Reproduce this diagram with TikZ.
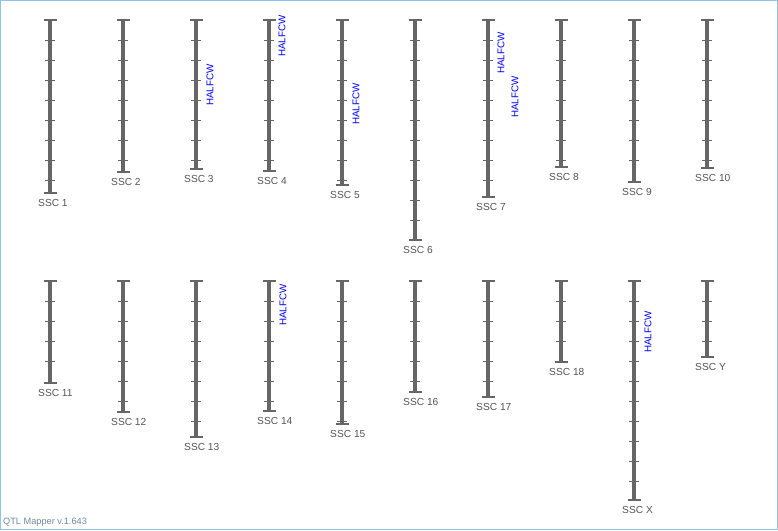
\documentclass[tikz,border=0pt]{standalone}
\usepackage{fontspec}
\setmainfont{Liberation Sans}
\definecolor{chromgrey}{HTML}{666666}
\definecolor{labgrey}{HTML}{555555}
\definecolor{qtlblue}{HTML}{0000FF}
\definecolor{framecol}{HTML}{8CC4E8}
\definecolor{footcol}{HTML}{6F8AA0}
\tikzset{
  chrombar/.style={draw=chromgrey, line width=4pt},
  chromcap/.style={draw=chromgrey, line width=2pt},
  chromtick/.style={draw=chromgrey, line width=1pt},
  chromlabel/.style={text=labgrey, inner sep=0pt, anchor=west, font=\fontsize{10.2}{12}\selectfont},
  qtllabel/.style={text=qtlblue, inner sep=0pt, rotate=90, font=\fontsize{9.8}{11}\selectfont},
}
\begin{document}
\begin{tikzpicture}[x=1pt,y=-1pt]
\useasboundingbox (0,0) rectangle (778,530);
\draw[framecol, line width=1pt] (0.5,0.5) rectangle (777.5,529.5);
% chromosomes: name/x/top/bottom/label
\foreach \n/\x/\t/\b/\l in {
  c1/50/20/193/SSC 1, c2/123/20/172/SSC 2, c3/196/20/169/SSC 3, c4/269/20/171/SSC 4,
  c5/342/20/185/SSC 5, c6/415/20/240/SSC 6, c7/488/20/197/SSC 7, c8/561/20/167/SSC 8,
  c9/634/20/182/SSC 9, c10/707/20/168/SSC 10,
  c11/50/281/383/SSC 11, c12/123/281/412/SSC 12, c13/196/281/437/SSC 13, c14/269/281/411/SSC 14,
  c15/342/281/424/SSC 15, c16/415/281/392/SSC 16, c17/488/281/397/SSC 17, c18/561/281/362/SSC 18,
  cX/634/281/500/SSC X, cY/707/281/357/SSC Y}
{
  \coordinate (\n top) at (\x,\t);
  \coordinate (\n bot) at (\x,\b);
  \draw[chrombar] (\n top) -- (\n bot);
  \draw[chromcap] ([xshift=-6.5pt]\n top) -- ([xshift=6.5pt]\n top);
  \draw[chromcap] ([xshift=-6.5pt]\n bot) -- ([xshift=6.5pt]\n bot);
  \pgfmathtruncatemacro{\nt}{floor((\b-\t-3)/20)}
  \foreach \k in {1,...,\nt} {
    \draw[chromtick] (\x-5,\t+20*\k) -- (\x+5,\t+20*\k);
  }
  \node[chromlabel] (\n lab) at ([xshift=-12pt,yshift=-10pt]\n bot) {\l};
}
% QTL labels
\node[qtllabel] (q3) at (210,85) {HALFCW};
\node[qtllabel] (q4) at (282,36) {HALFCW};
\node[qtllabel] (q5) at (356,104) {HALFCW};
\node[qtllabel] (q7a) at (501,53) {HALFCW};
\node[qtllabel] (q7b) at (515,97) {HALFCW};
\node[qtllabel] (q14) at (283,305) {HALFCW};
\node[qtllabel] (qX) at (648,332) {HALFCW};
% footer
\node[anchor=south west, inner sep=0pt, text=footcol, font=\fontsize{9.2}{10}\selectfont] (foot) at (3,527) {QTL Mapper v.1.643};
\end{tikzpicture}
\end{document}
